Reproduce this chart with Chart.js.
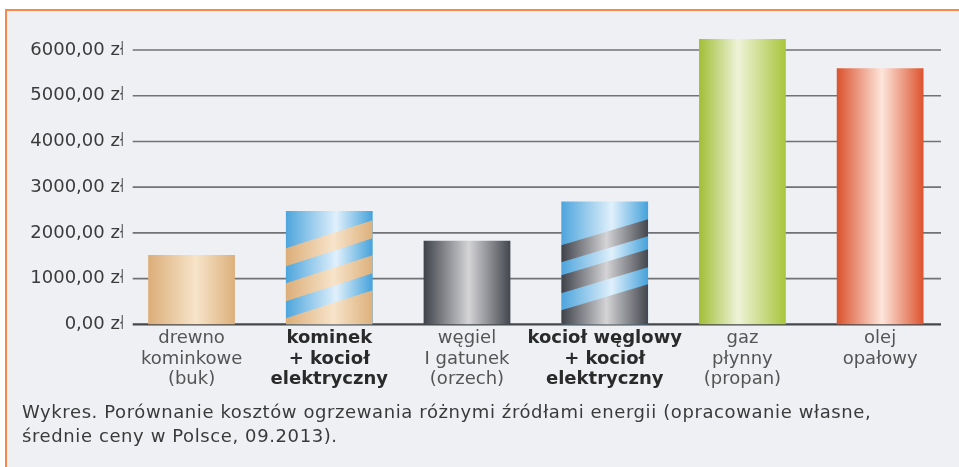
<!DOCTYPE html>
<html lang="pl">
<head>
<meta charset="utf-8">
<title>Porównanie kosztów ogrzewania</title>
<script src="https://cdn.jsdelivr.net/npm/chart.js@4/dist/chart.umd.min.js"></script>
<style>
  html, body { margin: 0; padding: 0; background: #ffffff; }
  #page { position: relative; width: 959px; height: 467px; overflow: hidden; }
  #frame {
    position: absolute; left: 5px; top: 9px; right: 0; bottom: 0;
    background: #eef0f4;
    border-top: 2px solid #f4894a;
    border-left: 2px solid #f4894a;
  }
  #wrap { position: absolute; left: 0; top: 0; width: 959px; height: 467px; }
  #caption {
    position: absolute; left: 22px; top: 400px;
    font-family: 'DejaVu Sans', sans-serif; font-size: 18px; line-height: 24px;
    letter-spacing: 0.6px;
    color: #3a3a3a;
  }
</style>
</head>
<body>
<div id="page">
  <div id="frame"></div>
  <div id="wrap"><canvas id="kosztyChart"></canvas></div>
  <div id="caption">Wykres. Porównanie kosztów ogrzewania różnymi źródłami energii (opracowanie własne,<br>średnie ceny w Polsce, 09.2013).</div>
</div>
<script>
// Dane wykresu
const categories = [
  ['drewno', 'kominkowe', '(buk)'],
  ['kominek', '+ kocioł', 'elektryczny'],
  ['węgiel', 'I gatunek', '(orzech)'],
  ['kocioł węglowy', '+ kocioł', 'elektryczny'],
  ['gaz', 'płynny', '(propan)'],
  ['olej', 'opałowy'],
];
const costs = [1515, 2480, 1830, 2685, 6240, 5600];
const yTickLabels = ['0,00 zł', '1000,00 zł', '2000,00 zł', '3000,00 zł', '4000,00 zł', '5000,00 zł', '6000,00 zł'];
const boldCategories = [1, 3];

// Kolory (gradienty poziome)
const tan = [[0, '#dcae79'], [0.55, '#f7e4ca'], [1, '#ddb07b']];
const blue = [[0, '#4da5dc'], [0.58, '#e0f0fb'], [1, '#45a2db']];
const gray = [[0, '#3f424a'], [0.52, '#d4d4d6'], [1, '#43464e']];
const green = [[0, '#a1be36'], [0.45, '#eef3d8'], [1, '#a9c53c']];
const red = [[0, '#db522d'], [0.52, '#fde6db'], [1, '#dc532e']];
const barFills = [tan, blue, gray, blue, green, red];

// Paski ukośne: [odległość od podstawy po lewej, grubość], ostatni do podstawy
const stripes = {
  1: { fill: tan, rise: 28, bands: [[76, 18], [41, 18], [6, 0]] },
  3: { fill: gray, rise: 26, bands: [[79, 17], [49, 18], [14, 0]] },
};

const BAR_PCT = 0.63;
const FONT = "'DejaVu Sans', sans-serif";

function makeGradient(ctx, left, right, stops) {
  const g = ctx.createLinearGradient(left, 0, right, 0);
  stops.forEach(([o, c]) => g.addColorStop(o, c));
  return g;
}

function barColor(context) {
  const chart = context.chart;
  const xScale = chart.scales.x;
  if (!chart.chartArea || !xScale) return '#cccccc';
  const cx = xScale.getPixelForValue(context.dataIndex);
  const w = (xScale.width / categories.length) * BAR_PCT;
  return makeGradient(chart.ctx, cx - w / 2, cx + w / 2, barFills[context.dataIndex]);
}

const gridPlugin = {
  id: 'siatka',
  beforeDatasetsDraw(chart) {
    const { ctx, chartArea, scales } = chart;
    const x0 = chartArea.left + 10;
    const x1 = chartArea.right - 8;
    ctx.save();
    scales.y.ticks.forEach((t) => {
      const y = scales.y.getPixelForValue(t.value);
      ctx.beginPath();
      ctx.strokeStyle = t.value === 0 ? '#45474b' : '#707276';
      ctx.lineWidth = t.value === 0 ? 2.2 : 1.6;
      ctx.moveTo(x0, y);
      ctx.lineTo(x1, y);
      ctx.stroke();
    });
    ctx.restore();
  },
};

const stripePlugin = {
  id: 'paski',
  afterDatasetsDraw(chart) {
    const { ctx } = chart;
    const meta = chart.getDatasetMeta(0);
    ctx.save();
    Object.keys(stripes).forEach((key) => {
      const s = stripes[key];
      const bar = meta.data[key];
      const { x, y, base, width } = bar.getProps(['x', 'y', 'base', 'width'], true);
      const left = x - width / 2;
      const right = x + width / 2;
      ctx.save();
      ctx.beginPath();
      ctx.rect(left, y, width, base - y);
      ctx.clip();
      ctx.fillStyle = makeGradient(ctx, left, right, s.fill);
      s.bands.forEach(([off, thick]) => {
        const top = base - off;
        const bottom = thick > 0 ? top + thick : base + s.rise + 5;
        ctx.beginPath();
        ctx.moveTo(left, top);
        ctx.lineTo(right, top - s.rise);
        ctx.lineTo(right, thick > 0 ? bottom - s.rise : bottom);
        ctx.lineTo(left, bottom);
        ctx.closePath();
        ctx.fill();
      });
      ctx.restore();
    });
    ctx.restore();
  },
};

new Chart(document.getElementById('kosztyChart'), {
  type: 'bar',
  data: {
    labels: categories,
    datasets: [
      {
        data: costs,
        backgroundColor: barColor,
        borderWidth: 0,
        barPercentage: BAR_PCT,
        categoryPercentage: 1,
        clip: false,
      },
    ],
  },
  options: {
    responsive: true,
    maintainAspectRatio: false,
    animation: false,
    layout: { padding: { top: 50, right: 10, left: 0, bottom: 0 } },
    plugins: {
      legend: { display: false },
      tooltip: { enabled: false },
    },
    scales: {
      x: {
        grid: { display: false, drawTicks: false },
        border: { display: false },
        afterFit(scale) { scale.height = 142.7; },
        ticks: {
          padding: 4,
          maxRotation: 0,
          autoSkip: false,
          color: (c) => (boldCategories.includes(c.index) ? '#2a2a2a' : '#555555'),
          font: (c) => ({
            family: FONT,
            size: 18,
            lineHeight: 1.14,
            weight: boldCategories.includes(c.index) ? 'bold' : 'normal',
          }),
        },
      },
      y: {
        min: 0,
        max: 6000,
        grid: { display: false, drawTicks: false },
        border: { display: false },
        afterFit(scale) { scale.width = 122.7; },
        ticks: {
          stepSize: 1000,
          padding: -2.3,
          color: '#3b3b3b',
          font: { family: FONT, size: 18 },
          callback: (value, index) => yTickLabels[index],
        },
      },
    },
  },
  plugins: [gridPlugin, stripePlugin],
});
</script>
</body>
</html>
